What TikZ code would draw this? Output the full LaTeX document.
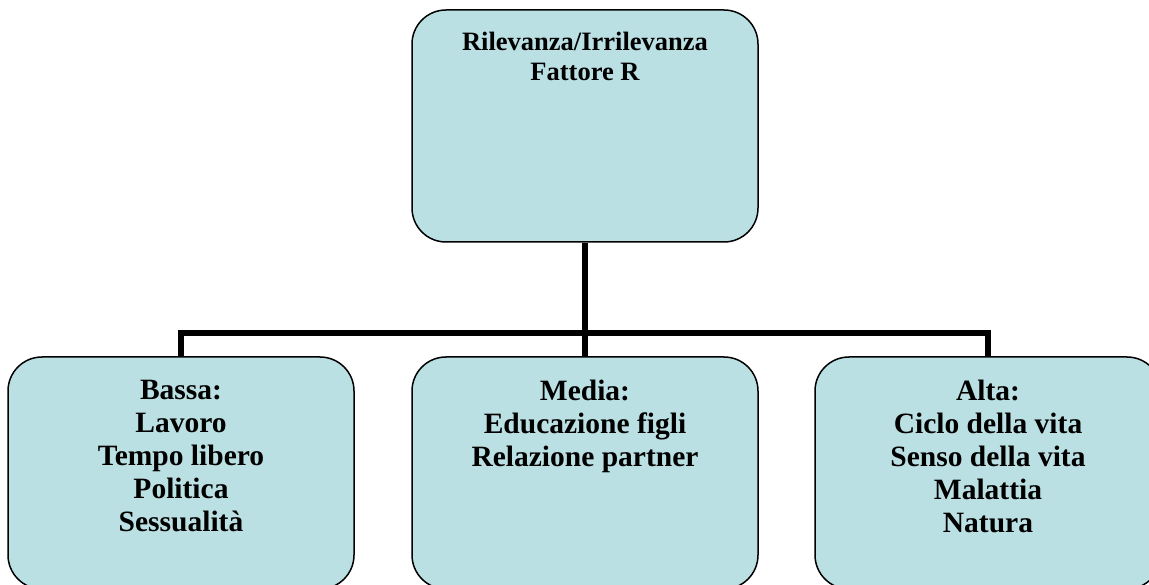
\documentclass[tikz,border=0pt]{standalone}
\usepackage{fontspec}
\setmainfont{Liberation Serif}
\definecolor{boxfill}{HTML}{BBE0E3}
\begin{document}
\begin{tikzpicture}[
        x=1pt, y=-1pt,
        boxsty/.style={rectangle, rounded corners=34pt, draw, line width=1.5pt,
            fill=boxfill, minimum width=346pt, minimum height=232pt},
        txtsty/.style={font=\bfseries\fontsize{29.5}{33}\selectfont, align=center,
            anchor=north, inner sep=0pt},
        toptxtsty/.style={font=\bfseries\fontsize{26.5}{30}\selectfont, align=center,
            anchor=north, inner sep=0pt},
        linksty/.style={line width=6pt},
    ]
    \useasboundingbox (0,0) rectangle (1149,585);
    \node (r) at (585,126) [boxsty] {};
    \node (rt) at ([yshift=-23pt]r.north) [toptxtsty] {Rilevanza/Irrilevanza\\Fattore R};
    \node (b) at (181,473) [boxsty] {};
    \node (m) at (585,473) [boxsty] {};
    \node (a) at (988,473) [boxsty] {};
    \node (bt) at ([yshift=-24pt]b.north) [txtsty] {Bassa:\\Lavoro\\Tempo libero\\Politica\\Sessualità};
    \node (mt) at ([yshift=-24pt]m.north) [txtsty] {Media:\\Educazione figli\\Relazione partner};
    \node (at) at ([yshift=-24pt]a.north) [txtsty] {Alta:\\Ciclo della vita\\Senso della vita\\Malattia\\Natura};
    \coordinate (j) at (585,333);
    \draw[linksty] (r.south) -- (j);
    \foreach \n in {b,m,a}{
        \draw[linksty] (j) -| (\n.north);
    }
\end{tikzpicture}
\end{document}
